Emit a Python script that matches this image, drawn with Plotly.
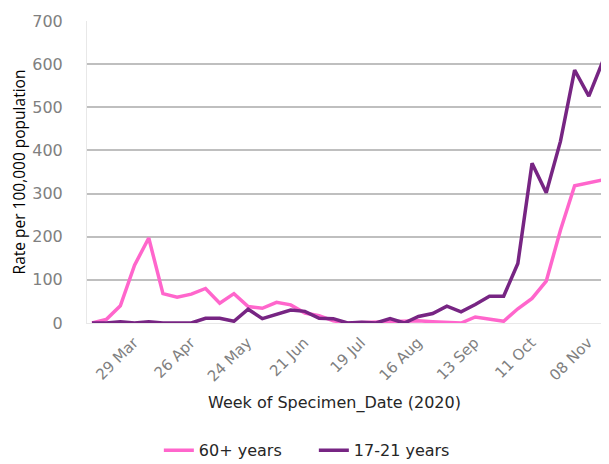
import plotly.graph_objects as go
import datetime as dt

# Weekly categories: 01 Mar 2020 .. 08 Nov 2020
start = dt.date(2020, 3, 1)
weeks = [(start + dt.timedelta(days=7 * i)).strftime("%d %b") for i in range(37)]

age_60_plus = [0, 8, 40, 134, 197, 68, 60, 67, 80, 46, 68, 38, 34, 48, 42, 23, 17, 5, 0,
               1, 0, 2, 4, 5, 3, 1, 0, 14, 8, 4, 33, 57, 97, 215, 318, 324, 332]
age_17_21 = [0, 0, 3, 0, 3, 0, 0, 0, 11, 11, 4, 32, 10, 21, 30, 27, 11, 10, 0,
             2, 0, 10, 0, 15, 22, 39, 26, 43, 62, 62, 138, 370, 302, 421, 586, 526, 608]

tick_labels = ["29 Mar", "26 Apr", "24 May", "21 Jun", "19 Jul", "16 Aug", "13 Sep", "11 Oct", "08 Nov"]
y_ticks = [0, 100, 200, 300, 400, 500, 600, 700]

fig = go.Figure()
fig.add_trace(go.Scatter(x=weeks, y=age_60_plus, mode="lines", name="60+ years",
                         line=dict(color="#FF66CC", width=3.5)))
fig.add_trace(go.Scatter(x=weeks, y=age_17_21, mode="lines", name="17-21 years",
                         line=dict(color="#772583", width=3.5)))

fig.update_layout(
    width=601, height=456,
    margin=dict(l=79, r=2, t=13, b=141),
    paper_bgcolor="white", plot_bgcolor="white",
    font=dict(family="Open Sans", color="#808080"),
    xaxis=dict(
        type="category",
        range=[-0.35, 36.28],
        automargin=False,
        tickmode="array", tickvals=tick_labels, ticktext=tick_labels,
        tickangle=-45,
        ticklabelshift=-15,
        tickfont=dict(size=15, color="#808080", family="DejaVu Sans"),
        showgrid=False, zeroline=False,
        showline=True, linecolor="#E8E8E8", linewidth=1,
        ticks="outside", ticklen=4, tickcolor="rgba(255,255,255,0)",
    ),
    yaxis=dict(
        range=[0, 700],
        automargin=False,
        tickvals=y_ticks,
        tickfont=dict(size=16, color="#808080", family="DejaVu Sans"),
        showgrid=True, gridcolor="#BFBFBF", gridwidth=1.5,
        zeroline=False,
        showline=True, linecolor="#E8E8E8", linewidth=1,
        ticks="outside", ticklen=20, tickcolor="rgba(255,255,255,0)",
        title=dict(text="Rate per 100,000 population",
                   font=dict(size=15.5, color="#000000", family="Open Sans")),
    ),
    annotations=[dict(
        text="Week of Specimen_Date (2020)",
        xref="paper", yref="paper", x=0.475, y=-0.265,
        xanchor="center", yanchor="middle", showarrow=False,
        font=dict(size=16, color="#262626", family="DejaVu Sans"),
    )],
    legend=dict(
        orientation="h",
        xref="container", yref="container",
        x=0.251, y=0.03, xanchor="left", yanchor="middle",
        font=dict(size=16, color="#262626", family="DejaVu Sans"),
        entrywidth=110, entrywidthmode="pixels",
        bgcolor="rgba(0,0,0,0)",
    ),
)

fig.write_html("out.html")
